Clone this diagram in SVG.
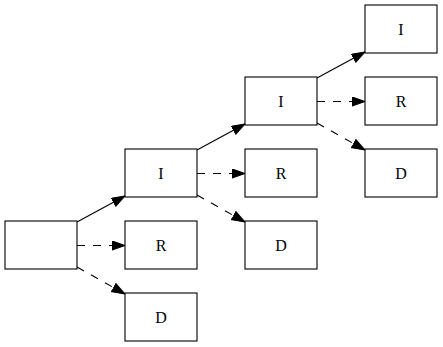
<svg xmlns="http://www.w3.org/2000/svg" width="443" height="347" viewBox="0 0 443 347">
<style>
  .node rect { fill: #ffffff; stroke: #000000; stroke-width: 1.1; }
  .node text { font-family: "Liberation Serif", "Times New Roman", serif; font-size: 16px; text-anchor: middle; fill: #000000; }
  .edge { fill: none; stroke: #000000; stroke-width: 1.1; }
  .dashed { stroke-dasharray: 8,8; }
</style>
<defs>
  <marker id="arrow" markerUnits="userSpaceOnUse" markerWidth="15" markerHeight="11" refX="13.5" refY="5" orient="auto" viewBox="0 0 15 11">
    <polygon points="0.5,0.4 13.5,5 0.5,9.6" fill="#000000" stroke="#000000" stroke-width="1" stroke-dasharray="none"/>
  </marker>
</defs>
<rect width="443" height="347" fill="#ffffff"/>
<g id="connectors">
  <line class="edge" x1="77" y1="222" x2="125" y2="196" marker-end="url(#arrow)"/>
  <line class="edge dashed" x1="77" y1="245.5" x2="125" y2="245.5" marker-end="url(#arrow)"/>
  <line class="edge dashed" x1="77" y1="267" x2="125" y2="294" marker-end="url(#arrow)"/>
  <line class="edge" x1="197" y1="150" x2="245" y2="124" marker-end="url(#arrow)"/>
  <line class="edge dashed" x1="197" y1="173.5" x2="245" y2="173.5" marker-end="url(#arrow)"/>
  <line class="edge dashed" x1="197" y1="195" x2="245" y2="222" marker-end="url(#arrow)"/>
  <line class="edge" x1="317" y1="78" x2="365" y2="52" marker-end="url(#arrow)"/>
  <line class="edge dashed" x1="317" y1="101.5" x2="365" y2="101.5" marker-end="url(#arrow)"/>
  <line class="edge dashed" x1="317" y1="123" x2="365" y2="150" marker-end="url(#arrow)"/>
</g>
<g id="root" class="node"><rect x="5" y="221" width="72" height="48"/></g>
<g id="I1" class="node"><rect x="125" y="149" width="72" height="48"/><text x="161" y="179">I</text></g>
<g id="R1" class="node"><rect x="125" y="221" width="72" height="48"/><text x="161" y="251">R</text></g>
<g id="D1" class="node"><rect x="125" y="293" width="72" height="48"/><text x="161" y="323">D</text></g>
<g id="I2" class="node"><rect x="245" y="77" width="72" height="48"/><text x="281" y="107">I</text></g>
<g id="R2" class="node"><rect x="245" y="149" width="72" height="48"/><text x="281" y="179">R</text></g>
<g id="D2" class="node"><rect x="245" y="221" width="72" height="48"/><text x="281" y="251">D</text></g>
<g id="I3" class="node"><rect x="365" y="5" width="72" height="48"/><text x="401" y="35">I</text></g>
<g id="R3" class="node"><rect x="365" y="77" width="72" height="48"/><text x="401" y="107">R</text></g>
<g id="D3" class="node"><rect x="365" y="149" width="72" height="48"/><text x="401" y="179">D</text></g>
</svg>
